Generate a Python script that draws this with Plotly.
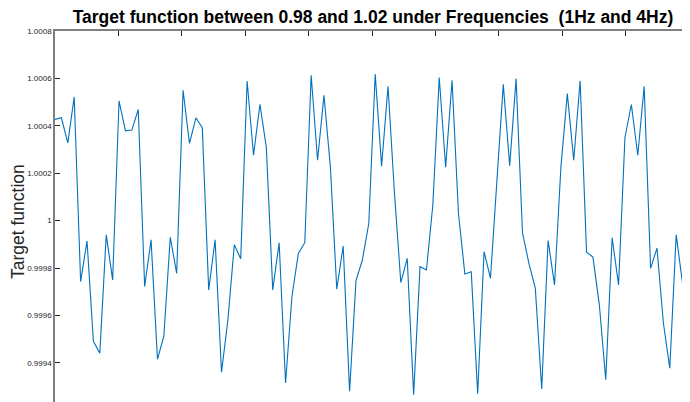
import plotly.graph_objects as go

# Sample index (100 samples across the visible axis)
sample_index = list(range(100))

# Deviation from 1 in units of 1e-4
deviation_e4 = [
    4.27, 4.34, 3.28, 5.22, -2.57, -0.86, -5.09, -5.59, -0.60, -2.50,
    5.05, 3.79, 3.82, 4.69, -2.78, -0.81, -5.85, -4.86, -0.70, -2.22,
    5.50, 3.26, 4.34, 3.92, -2.92, -0.81, -6.39, -4.18, -1.02, -1.61,
    5.89, 2.76, 4.91, 3.09, -2.92, -0.93, -6.85, -3.20, -1.38, -0.93,
    6.13, 2.55, 5.29, 2.27, -2.89, -1.07, -7.20, -2.53, -1.66, -0.11,
    6.18, 2.30, 5.67, 1.20, -2.61, -1.59, -7.34, -1.94, -2.08, 0.66,
    6.04, 2.25, 5.92, 0.31, -2.25, -2.16, -7.30, -1.31, -2.43, 1.57,
    5.75, 2.32, 5.99, -0.51, -1.80, -2.85, -7.10, -0.84, -2.71, 2.27,
    5.36, 2.55, 5.90, -1.33, -1.54, -3.55, -6.71, -0.72, -2.71, 3.51,
    4.90, 2.76, 5.67, -2.01, -1.16, -4.32, -6.22, -0.60, -2.67, 4.31,
]
target_values = [1 + d * 1e-4 for d in deviation_e4]

y_tick_vals = [0.9994, 0.9996, 0.9998, 1.0, 1.0002, 1.0004, 1.0006, 1.0008]
y_tick_text = ["0.9994", "0.9996", "0.9998", "1", "1.0002", "1.0004", "1.0006", "1.0008"]
x_tick_vals = [i * 9.9 for i in range(11)]

W, H = 682, 394  # page body has an 8px margin

fig = go.Figure()
fig.add_trace(go.Scatter(
    x=sample_index, y=target_values, mode="lines",
    line=dict(color="#0072BD", width=1.1),
    hoverinfo="skip", showlegend=False,
))

fig.update_layout(
    width=W, height=H,
    margin=dict(l=47, r=1, t=23, b=0),
    paper_bgcolor="white", plot_bgcolor="white",
    font=dict(family="Liberation Sans, Arial, sans-serif", color="#262626"),
    title=dict(
        text="<b>Target function between 0.98 and 1.02 under Frequencies  (1Hz and 4Hz)</b>",
        x=(373 - 8) / W, xanchor="center", xref="container",
        y=1 - 9 / H, yanchor="middle", yref="container",
        font=dict(size=17.5, color="#000000"),
    ),
    xaxis=dict(
        range=[0, 99], side="top", showgrid=False, zeroline=False,
        showline=True, linecolor="#7f7f7f", linewidth=1.5,
        ticks="inside", ticklen=5, tickcolor="#262626",
        tickvals=x_tick_vals, showticklabels=False,
    ),
    yaxis=dict(
        range=[0.999235, 1.0008], showgrid=False, zeroline=False,
        showline=True, linecolor="#7f7f7f", linewidth=1.5, mirror="ticks",
        ticks="inside", ticklen=5, tickcolor="#262626",
        tickvals=y_tick_vals, ticktext=y_tick_text,
        tickfont=dict(size=8, color="#262626"),
    ),
    annotations=[dict(
        text="Target function", xref="paper", yref="paper",
        x=(18 - 55) / 634, y=(402 - 222) / 371, xanchor="center", yanchor="middle",
        textangle=-90, showarrow=False,
        font=dict(size=17.5, color="#262626"),
    )],
)

fig.write_html("out.html")
